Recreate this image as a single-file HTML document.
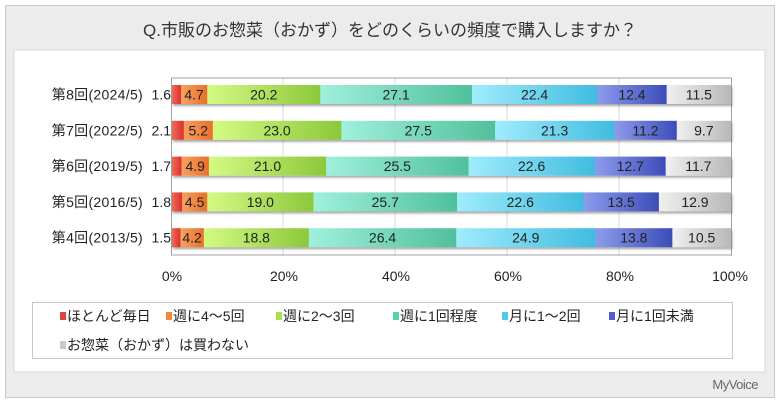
<!DOCTYPE html>
<html><head><meta charset="utf-8"><style>
body{margin:0;width:780px;height:405px;background:#fff;overflow:hidden}
svg{display:block;font-family:"Liberation Sans","Noto Sans CJK JP",sans-serif}
</style></head><body>
<svg width="780" height="405" viewBox="0 0 780 405">
<defs>
<linearGradient id="g0"><stop offset="0" stop-color="#f06a5a"/><stop offset="1" stop-color="#d8302a"/></linearGradient>
<linearGradient id="g1"><stop offset="0" stop-color="#f8a060"/><stop offset="1" stop-color="#e87028"/></linearGradient>
<linearGradient id="g2"><stop offset="0" stop-color="#d4fa84"/><stop offset="1" stop-color="#8cc83a"/></linearGradient>
<linearGradient id="g3"><stop offset="0" stop-color="#a0f0dc"/><stop offset="1" stop-color="#50c09c"/></linearGradient>
<linearGradient id="g4"><stop offset="0" stop-color="#a0ecfc"/><stop offset="1" stop-color="#40bce0"/></linearGradient>
<linearGradient id="g5"><stop offset="0" stop-color="#8c9cec"/><stop offset="1" stop-color="#3c4cb8"/></linearGradient>
<linearGradient id="g6"><stop offset="0" stop-color="#f0f0f0"/><stop offset="1" stop-color="#b8b8b8"/></linearGradient>
<filter id="sh" x="-5%" y="-20%" width="110%" height="160%"><feDropShadow dx="1" dy="2" stdDeviation="1" flood-color="#000" flood-opacity="0.35"/></filter>
</defs>
<rect x="5.5" y="5.5" width="769" height="392" fill="#ececec" stroke="#c8c8c8"/>
<rect x="14" y="50" width="751" height="322" fill="#fff" stroke="#d8d8d8"/>
<text x="390" y="36" font-size="17" text-anchor="middle" fill="#333">Q.市販のお惣菜（おかず）をどのくらいの頻度で購入しますか？</text>
<g stroke="#d9d9d9"><line x1="283" y1="78" x2="283" y2="255"/><line x1="395" y1="78" x2="395" y2="255"/><line x1="507" y1="78" x2="507" y2="255"/><line x1="619" y1="78" x2="619" y2="255"/></g>
<rect x="171.5" y="78" width="560" height="177" fill="none" stroke="#a0a0a0"/>
<g id="bars" font-size="14" fill="#222"></g>
<g font-size="14" fill="#222" text-anchor="middle">
<text x="172" y="281">0%</text><text x="284" y="281">20%</text><text x="396" y="281">40%</text><text x="508" y="281">60%</text><text x="620" y="281">80%</text><text x="730" y="281">100%</text></g>
<rect x="32.5" y="302.5" width="700" height="56" fill="#fff" stroke="#c8c8c8"/>
<g font-size="14" fill="#222">
<rect x="60" y="312" width="6" height="8" fill="#e0443a"/><text x="67" y="321">ほとんど毎日</text>
<rect x="166" y="312" width="6" height="8" fill="#f08a3c"/><text x="173" y="321">週に4～5回</text>
<rect x="276" y="312" width="6" height="8" fill="#a8e050"/><text x="283" y="321">週に2～3回</text>
<rect x="393" y="312" width="6" height="8" fill="#5cd0b0"/><text x="400" y="321">週に1回程度</text>
<rect x="502" y="312" width="6" height="8" fill="#50c8f0"/><text x="509" y="321">月に1～2回</text>
<rect x="609" y="312" width="6" height="8" fill="#5060c8"/><text x="616" y="321">月に1回未満</text>
<rect x="60" y="341" width="6" height="8" fill="#c8c8c8"/><text x="67" y="350">お惣菜（おかず）は買わない</text>
</g>
<text x="758" y="389" font-size="13" text-anchor="end" fill="#666" letter-spacing="-0.5">MyVoice</text>
</svg>
<script>
var data=[["第8回(2024/5)",[1.6,4.7,20.2,27.1,22.4,12.4,11.5]],["第7回(2022/5)",[2.1,5.2,23.0,27.5,21.3,11.2,9.7]],["第6回(2019/5)",[1.7,4.9,21.0,25.5,22.6,12.7,11.7]],["第5回(2016/5)",[1.8,4.5,19.0,25.7,22.6,13.5,12.9]],["第4回(2013/5)",[1.5,4.2,18.8,26.4,24.9,13.8,10.5]]];
var g=document.getElementById('bars'),s="";
data.forEach(function(d,i){var y=85+i*35.8,x=172,sum=d[1].reduce(function(a,b){return a+b}),segs="",labs="";
s+='<text x="143" y="'+(y+14.5)+'" text-anchor="end" letter-spacing="0.3">'+d[0]+'</text>';
d[1].forEach(function(v,j){var w=v/sum*559;segs+='<rect x="'+x+'" y="'+y+'" width="'+(w+0.3)+'" height="19" fill="url(#g'+j+')"/>';
var t=v.toFixed(1);if(j==0)labs+='<text x="171" y="'+(y+14.5)+'" text-anchor="end">'+t+'</text>';else labs+='<text x="'+(x+w/2)+'" y="'+(y+14.5)+'" text-anchor="middle">'+t+'</text>';x+=w;});
s+='<g filter="url(#sh)">'+segs+'</g>'+labs;});
g.innerHTML=s;
</script>
</body></html>
